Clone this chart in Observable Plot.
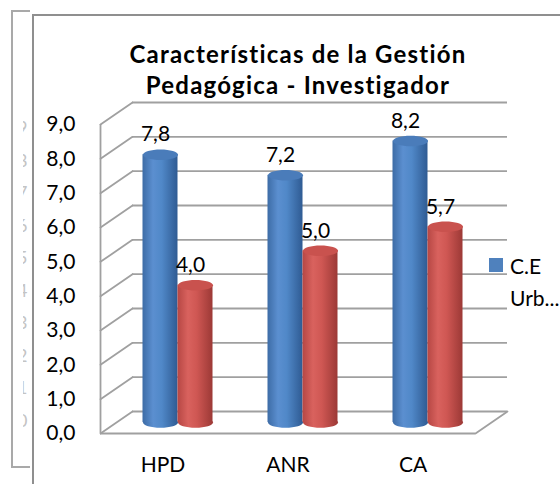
<!DOCTYPE html>
<html><head><meta charset="utf-8">
<script src="https://cdn.jsdelivr.net/npm/d3@7"></script>
<script src="https://cdn.jsdelivr.net/npm/@observablehq/plot@0.6"></script>
<style>
html,body{margin:0;padding:0;background:#fff;}
#wrap{position:relative;width:560px;height:484px;overflow:hidden;background:#fff;font-family:Lato,"Open Sans",sans-serif;color:#000;}
.bgframe{position:absolute;left:11px;top:10px;width:17px;height:454px;border-left:2px solid #a9a9a9;border-top:2px solid #a9a9a9;border-bottom:2px solid #a9a9a9;}
.ghost{position:absolute;left:23px;top:0;width:6px;height:484px;overflow:hidden;}
.ghost span{position:absolute;left:-6px;font-size:18px;color:#c4c4c4;line-height:20px;}
.main{position:absolute;left:32px;top:14px;width:540px;height:480px;background:#fff;border-left:2px solid #8f8f8f;border-top:2px solid #8f8f8f;}
#chart{position:absolute;left:0;top:0;}
.title{position:absolute;left:98px;width:400px;top:38px;text-align:center;font-weight:bold;font-size:24px;line-height:31px;letter-spacing:1.2px;}
.legend{position:absolute;left:489px;top:250px;font-size:21px;line-height:32px;white-space:nowrap;}
.legend .sw{position:absolute;left:0;top:8px;width:14px;height:14px;background:#4f81bd;}
.legend .lt{position:absolute;left:21px;top:0;}
</style></head>
<body>
<svg width="0" height="0" style="position:absolute">
<defs>
<linearGradient id="gBlue" x1="0" y1="0" x2="1" y2="0">
<stop offset="0" stop-color="#3d6ca6"/><stop offset="0.3" stop-color="#5b8fd0"/><stop offset="0.55" stop-color="#5088c8"/><stop offset="1" stop-color="#2f5b93"/>
</linearGradient>
<linearGradient id="gRed" x1="0" y1="0" x2="1" y2="0">
<stop offset="0" stop-color="#b64744"/><stop offset="0.3" stop-color="#d9625e"/><stop offset="0.55" stop-color="#cf5753"/><stop offset="1" stop-color="#9c3936"/>
</linearGradient>
</defs></svg>
<div id="wrap">
  <div class="bgframe"></div>
  <div class="ghost" id="ghost"></div>
  <div class="main"></div>
  <div id="chart"></div>
  <div class="title">Características de la Gestión<br>Pedagógica - Investigador</div>
  <div class="legend"><div class="sw"></div><div class="lt">C.E<br>Urb...</div></div>
</div>
<script>
const categories = ["HPD", "ANR", "CA"];
const seriesBlue = [7.8, 7.2, 8.2];
const seriesRed = [4.0, 5.0, 5.7];
const yTicks = [0, 1, 2, 3, 4, 5, 6, 7, 8, 9];
const ghostTicks = ["9", "8", "7", "6", "5", "4", "3", "2", "1", "0"];

const fmt = d => d.toFixed(1).replace(".", ",");
const rows = categories.map((c, i) => ({category: c, blue: seriesBlue[i], red: seriesRed[i]}));

// ghost digits of the chart behind
const ghost = document.getElementById("ghost");
ghostTicks.forEach((t, i) => {
  const s = document.createElement("span");
  s.textContent = t;
  s.style.top = (117 + i * 32.5) + "px";
  ghost.appendChild(s);
});

const DX = 32, DY = -22;        // depth of the back wall
const BDX = 15, BDY = -11;      // bars at mid depth
const grid = "#a0a0a0";

const ellipse = {draw(ctx, size) {
  const rx = Math.sqrt(size / Math.PI), ry = rx * 0.3, k = 0.5523;
  ctx.moveTo(rx, 0);
  ctx.bezierCurveTo(rx, ry * k, rx * k, ry, 0, ry);
  ctx.bezierCurveTo(-rx * k, ry, -rx, ry * k, -rx, 0);
  ctx.bezierCurveTo(-rx, -ry * k, -rx * k, -ry, 0, -ry);
  ctx.bezierCurveTo(rx * k, -ry, rx, -ry * k, rx, 0);
  ctx.closePath();
}};
const line = {draw(ctx, l) { ctx.moveTo(0, 0); ctx.lineTo(0, -l); }};
const depthLen = Math.hypot(DX, DY), depthRot = Math.atan2(DX, -DY) * 180 / Math.PI;

function cylinder(key, side, grad, top) {
  const off = side * 17.5 + BDX;
  const insetL = side < 0 ? 27.5 : 62.5, insetR = side < 0 ? 62.5 : 27.5;
  return [
    Plot.dot(rows, {x: "category", y: () => 0, r: 17.5, symbol: ellipse, fill: `url(#${grad})`, stroke: "none", dx: off, dy: BDY}),
    Plot.barY(rows, {x: "category", y1: () => 0, y2: key, fill: `url(#${grad})`, insetLeft: insetL, insetRight: insetR, dx: BDX, dy: BDY}),
    Plot.dot(rows, {x: "category", y: key, r: 17.5, symbol: ellipse, fill: top, stroke: "none", dx: off, dy: BDY}),
    Plot.text(rows, {x: "category", y: key, text: d => fmt(d[key]), dx: off - 5, dy: BDY - 20, fontSize: 21, fill: "#000"})
  ];
}

const chart = Plot.plot({
  width: 560, height: 484,
  marginLeft: 100, marginRight: 85, marginTop: 124, marginBottom: 51,
  x: {domain: categories, padding: 0, label: null},
  y: {domain: [0, 9], label: null},
  style: {background: "transparent", fontFamily: "Lato, 'Open Sans', sans-serif", fontSize: "21px", color: "#000", overflow: "visible"},
  marks: [
    Plot.ruleY(yTicks, {dx: DX, dy: DY, stroke: grid, strokeWidth: 1.8}),
    Plot.vector(yTicks, {y: d => d, frameAnchor: "left", length: depthLen, rotate: depthRot, anchor: "start", shape: line, stroke: grid, strokeWidth: 1.8}),
    Plot.vector([0], {y: d => d, frameAnchor: "right", length: depthLen, rotate: depthRot, anchor: "start", shape: line, stroke: grid, strokeWidth: 1.8}),
    Plot.ruleX([categories[0]], {dx: -62.5, y1: 0, y2: 9, stroke: grid, strokeWidth: 1.8}),
    Plot.ruleY([0], {stroke: grid, strokeWidth: 1.8}),
    ...cylinder("blue", -1, "gBlue", "#4a7cba"),
    ...cylinder("red", 1, "gRed", "#c9524e"),
    Plot.axisY(yTicks, {tickSize: 0, tickPadding: 25, tickFormat: fmt, label: null, fontSize: 21}),
    Plot.axisX({tickSize: 0, tickPadding: 24, label: null, fontSize: 21})
  ]
});
document.getElementById("chart").appendChild(chart);
</script>
</body></html>
